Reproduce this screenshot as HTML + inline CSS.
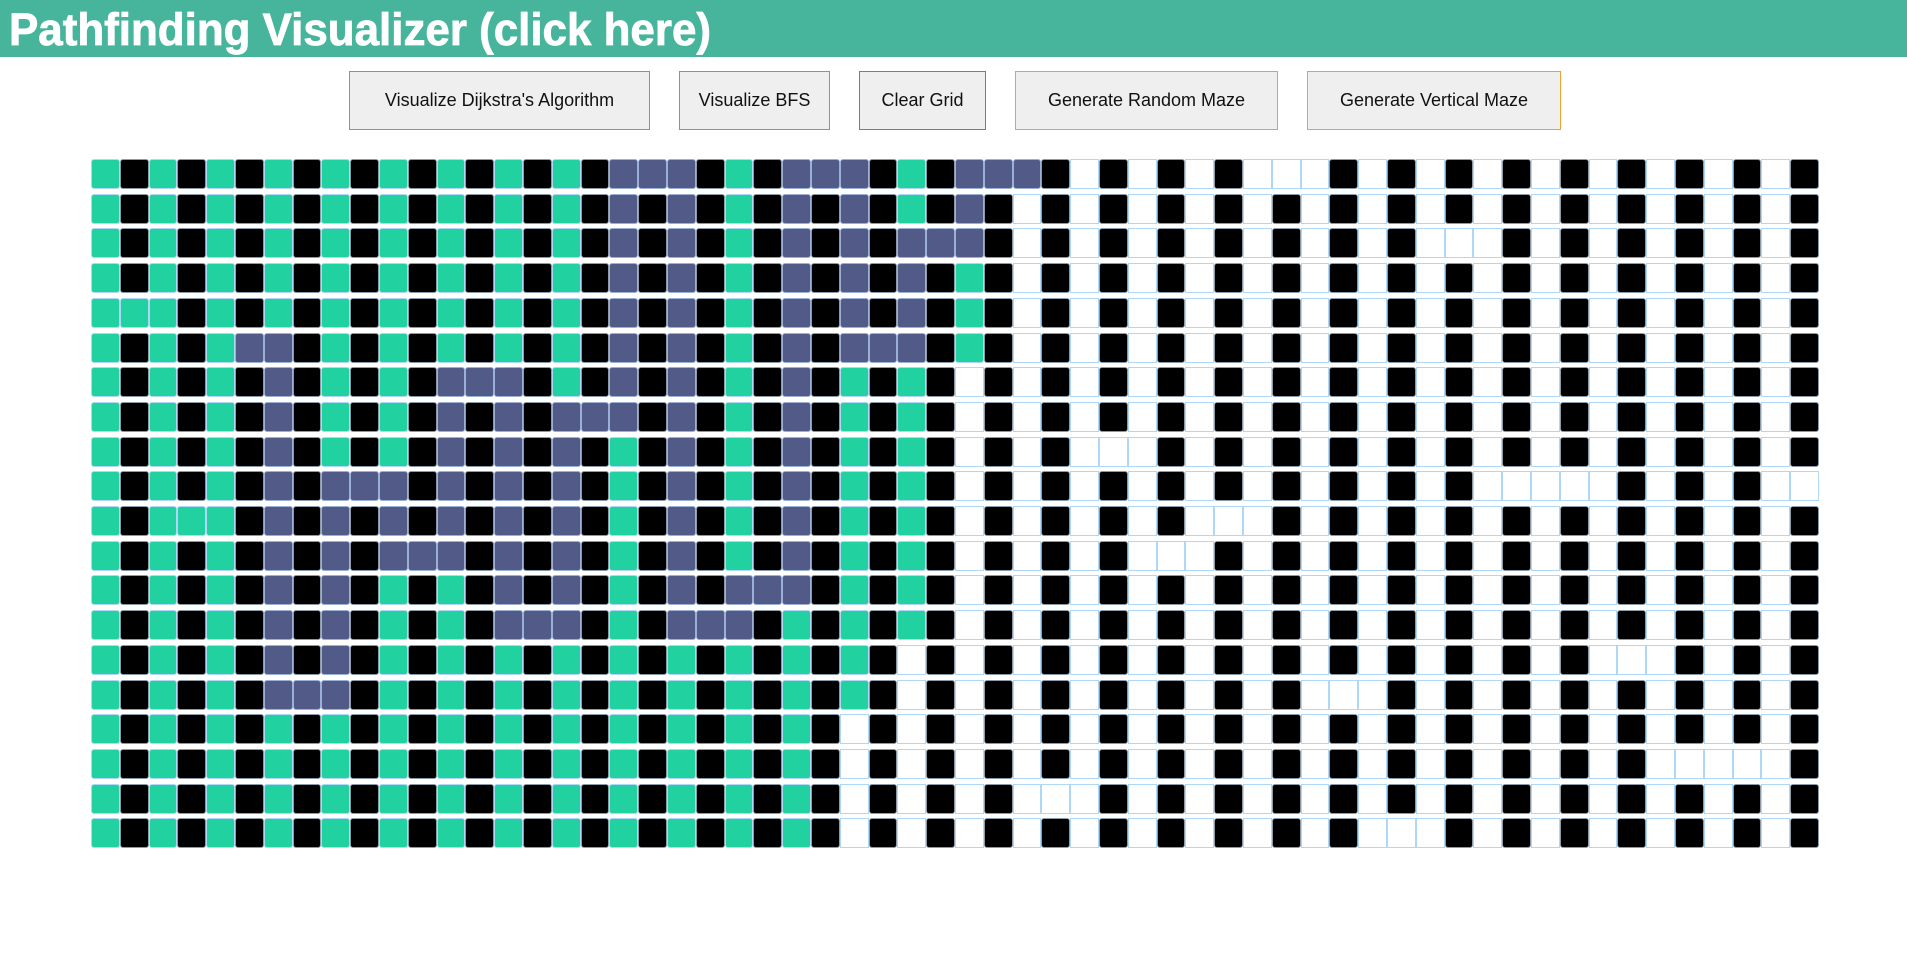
<!DOCTYPE html>
<html><head><meta charset="utf-8">
<style>
html,body{margin:0;padding:0;width:1907px;height:957px;background:#fff;overflow:hidden;font-family:"Liberation Sans",sans-serif}
#hdr{position:absolute;left:0;top:0;width:1907px;height:57px;background:#47b59b}
.btn{position:absolute;top:71px;height:59px;box-sizing:border-box;background:#efefef;border:1px solid;font-family:"Liberation Sans",sans-serif;font-size:18px;color:#111;display:flex;align-items:center;justify-content:center;padding:0}
#grid{position:absolute;left:0;top:0}
.cell{position:absolute;box-sizing:border-box;width:28.8px;height:30px;border:1px solid #afd8f8}
.G{background:#21d19f;border-radius:3px}
.B{background:#000;border-radius:3px;border-color:#8a9aa8}
.P{background:#525a88;border-radius:3px;border-color:#9ab0d8}
.W{background:#fff}
</style></head><body>
<div id="hdr">
<svg width="1907" height="57" style="position:absolute;left:0;top:0">
<text x="9" y="45" font-family="Liberation Sans, sans-serif" font-weight="bold" font-size="45" fill="#fff" stroke="#fff" stroke-width="0.8" textLength="702" lengthAdjust="spacingAndGlyphs">Pathfinding Visualizer (click here)</text>
</svg>
</div>
<button class="btn" style="left:349px;width:301px;border-color:#47b59b">Visualize Dijkstra's Algorithm</button>
<button class="btn" style="left:679px;width:151px;border-color:#47b59b">Visualize BFS</button>
<button class="btn" style="left:859px;width:127px;border-color:#e0524a">Clear Grid</button>
<button class="btn" style="left:1015px;width:263px;border-color:#f0a030">Generate Random Maze</button>
<button class="btn" style="left:1307px;width:254px;border-color:#f0a030">Generate Vertical Maze</button>
<div id="grid"></div>
<script>
const leftRows = [
"GBGBGBGBGBGBGBGBGBPPPBGBPPPBGB",
"GBGBGBGBGBGBGBGBGBPBPBGBPBPBGB",
"GBGBGBGBGBGBGBGBGBPBPBGBPBPBPP",
"GBGBGBGBGBGBGBGBGBPBPBGBPBPBPB",
"GGGBGBGBGBGBGBGBGBPBPBGBPBPBPB",
"GBGBGPPBGBGBGBGBGBPBPBGBPBPPPB",
"GBGBGBPBGBGBPPPBGBPBPBGBPBGBGB",
"GBGBGBPBGBGBPBPBPPPBPBGBPBGBGB",
"GBGBGBPBGBGBPBPBPBGBPBGBPBGBGB",
"GBGBGBPBPPPBPBPBPBGBPBGBPBGBGB",
"GBGGGBPBPBPBPBPBPBGBPBGBPBGBGB",
"GBGBGBPBPBPPPBPBPBGBPBGBPBGBGB",
"GBGBGBPBPBGBGBPBPBGBPBPPPBGBGB",
"GBGBGBPBPBGBGBPPPBGBPPPBGBGBGB",
"GBGBGBPBPBGBGBGBGBGBGBGBGBGBWB",
"GBGBGBPPPBGBGBGBGBGBGBGBGBGBWB",
"GBGBGBGBGBGBGBGBGBGBGBGBGBWBWB",
"GBGBGBGBGBGBGBGBGBGBGBGBGBWBWB",
"GBGBGBGBGBGBGBGBGBGBGBGBGBWBWB",
"GBGBGBGBGBGBGBGBGBGBGBGBGBWBWB"
];
const rightRows = [
"PPPBWBWBWBWWWBWBWBWBWBWBWBWBWB",
"PBWBWBWBWBWBWBWBWBWBWBWBWBWBWB",
"PBWBWBWBWBWBWBWBWWWBWBWBWBWBWB",
"GBWBWBWBWBWBWBWBWBWBWBWBWBWBWB",
"GBWBWBWBWBWBWBWBWBWBWBWBWBWBWB",
"GBWBWBWBWBWBWBWBWBWBWBWBWBWBWB",
"WBWBWBWBWBWBWBWBWBWBWBWBWBWBWB",
"WBWBWBWBWBWBWBWBWBWBWBWBWBWBWB",
"WBWBWWWBWBWBWBWBWBWBWBWBWBWBWB",
"WBWBWBWBWBWBWBWBWBWWWWWBWBWBWW",
"WBWBWBWBWWWBWBWBWBWBWBWBWBWBWB",
"WBWBWBWWWBWBWBWBWBWBWBWBWBWBWB",
"WBWBWBWBWBWBWBWBWBWBWBWBWBWBWB",
"WBWBWBWBWBWBWBWBWBWBWBWBWBWBWB",
"WBWBWBWBWBWBWBWBWBWBWBWWWBWBWB",
"WBWBWBWBWBWBWWWBWBWBWBWBWBWBWB",
"WBWBWBWBWBWBWBWBWBWBWBWBWBWBWB",
"WBWBWBWBWBWBWBWBWBWBWBWBWWWWWB",
"WBWWWBWBWBWBWBWBWBWBWBWBWBWBWB",
"WBWBWBWBWBWBWBWWWBWBWBWBWBWBWB"
];
const stateNames = {G:'visited-cell',B:'wall-cell',P:'path-cell',W:'empty-cell'};
const grid = document.getElementById('grid');
function colX(c){return 91 + c*28.8;}
function rowY(r){return 159 + r*34.7;}
for (let r=0;r<leftRows.length;r++){
  const row = (leftRows[r]+rightRows[r]);
  for (let c=0;c<60;c++){
    const s = row[c] || 'W';
    const el = document.createElement('div');
    el.className = 'cell ' + s;
    el.style.left = colX(c)+'px';
    el.style.top = rowY(r)+'px';
    
    
    grid.appendChild(el);
  }
}
</script>
</body></html>
